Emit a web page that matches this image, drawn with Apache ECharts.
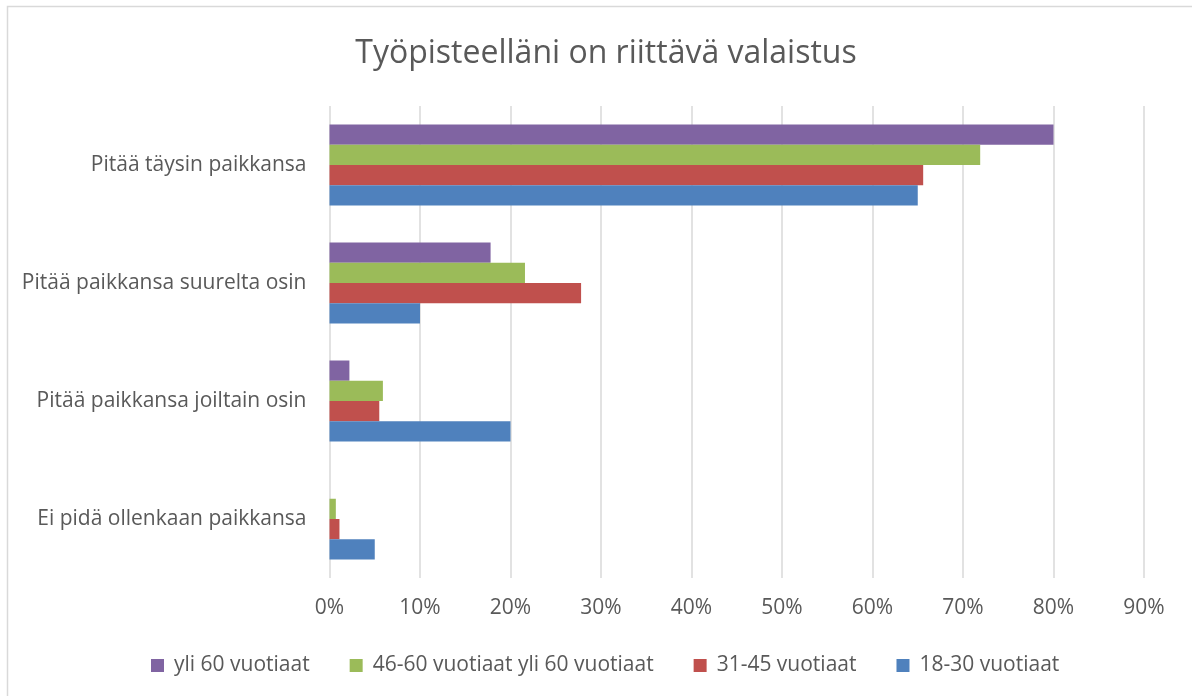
<!DOCTYPE html>
<html>
<head>
<meta charset="utf-8">
<script src="https://cdn.jsdelivr.net/npm/echarts@6/dist/echarts.min.js"></script>
<style>
html,body{margin:0;padding:0;background:#fff;}
#chart{width:1192px;height:696px;}
</style>
</head>
<body>
<div id="chart"></div>
<script>
const title = 'Työpisteelläni on riittävä valaistus';
const categories = ['Pitää täysin paikkansa', 'Pitää paikkansa suurelta osin', 'Pitää paikkansa joiltain osin', 'Ei pidä ollenkaan paikkansa'];
const seriesNames = ['yli 60 vuotiaat', '46-60 vuotiaat yli 60 vuotiaat', '31-45 vuotiaat', '18-30 vuotiaat'];
const yli60 = [80.0, 17.8, 2.2, 0];
const v46_60 = [71.9, 21.6, 5.9, 0.7];
const v31_45 = [65.6, 27.8, 5.5, 1.1];
const v18_30 = [65.0, 10.0, 20.0, 5.0];
const seriesValues = [yli60, v46_60, v31_45, v18_30];
const colors = ['#8064A2', '#9BBB59', '#C0504D', '#4F81BD'];

const FONT = '"Open Sans", "Noto Sans", sans-serif';
const TXT = '#595959';

const chart = echarts.init(document.getElementById('chart'), null, {renderer: 'canvas'});
chart.setOption({
  animation: false,
  backgroundColor: '#ffffff',
  textStyle: {fontFamily: FONT, color: TXT},
  title: {
    text: title,
    left: 601, textAlign: 'center',
    top: 33,
    textStyle: {fontFamily: FONT, fontSize: 32, fontWeight: 'normal', color: TXT}
  },
  graphic: [{
    type: 'rect', silent: true, z: -10,
    shape: {x: 7.5, y: 6.5, width: 1300, height: 800},
    style: {fill: 'none', stroke: '#d9d9d9', lineWidth: 1.5}
  }],
  legend: {
    data: seriesNames,
    left: 146,
    top: 650,
    itemWidth: 13, itemHeight: 13, itemGap: 40,
    icon: 'rect',
    textStyle: {fontFamily: FONT, fontSize: 21, color: TXT, padding: [0, 0, 0, 5]}
  },
  grid: {left: 329.5, right: 48, top: 106, bottom: 118, containLabel: false},
  xAxis: {
    type: 'value', min: 0, max: 90, interval: 10,
    axisLine: {show: false}, axisTick: {show: false},
    splitLine: {show: true, lineStyle: {color: '#d9d9d9', width: 1.5}},
    axisLabel: {formatter: '{value}%', fontFamily: FONT, fontSize: 21, color: TXT, margin: 20}
  },
  yAxis: {
    type: 'category', data: categories, inverse: true,
    axisLine: {show: false}, axisTick: {show: false},
    axisLabel: {fontFamily: FONT, fontSize: 21, color: TXT, margin: 23}
  },
  series: seriesNames.map((n, i) => ({
    name: n, type: 'bar', data: seriesValues[i],
    barWidth: 20.25, barGap: '0%',
    itemStyle: {color: colors[i]}
  }))
});
</script>
</body>
</html>
